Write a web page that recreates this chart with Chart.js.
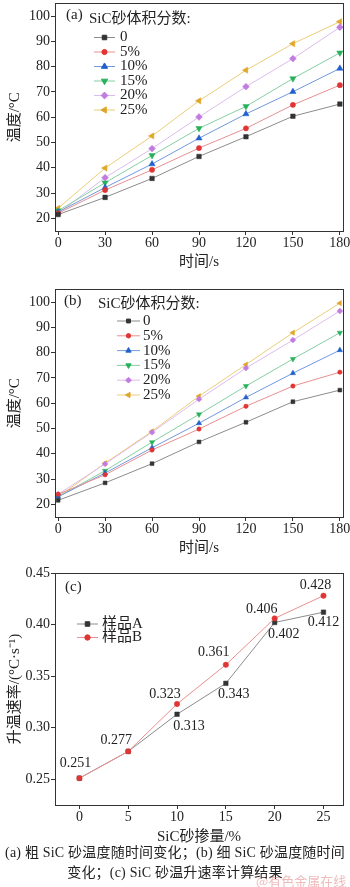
<!DOCTYPE html>
<html>
<head>
<meta charset="utf-8">
<script src="https://cdn.jsdelivr.net/npm/chart.js@4.4.0/dist/chart.umd.min.js"></script>
<style>
  body { margin: 0; background: #fff; width: 350px; height: 887px; position: relative; overflow: hidden; }
  .boite { position: absolute; left: 0; width: 350px; }
  .legende { position: absolute; left: 0; width: 350px; text-align: center; font-size: 14px; line-height: 18px; color: #222; white-space: nowrap;
    letter-spacing: 0.2px; font-family: 'Liberation Serif', 'Noto Sans CJK SC', serif; }
  .filigrane { position: absolute; left: 256px; top: 871px; font-size: 13px; color: rgba(225, 130, 130, 0.55);
    font-family: 'Noto Sans CJK SC', sans-serif; }
</style>
</head>
<body>
<div class="boite" style="top:-1px"><canvas id="chartA" width="350" height="272"></canvas></div>
<div class="boite" style="top:285px"><canvas id="chartB" width="350" height="272"></canvas></div>
<div class="boite" style="top:562px"><canvas id="chartC" width="350" height="284"></canvas></div>
<div class="legende" style="top:844px">(a) 粗 SiC 砂温度随时间变化；(b) 细 SiC 砂温度随时间</div>
<div class="legende" style="top:864px">变化；(c) SiC 砂温升速率计算结果</div>
<div class="filigrane">@有色金属在线</div>

<script>
// Données : temps (s) et fractions volumiques de SiC
const temps = [0, 30, 60, 90, 120, 150, 180];
const fractions = ['0', '5%', '10%', '15%', '20%', '25%'];

// (a) SiC grossier
const grosSic0 = [21.5, 28.3, 35.8, 44.5, 52.3, 60.4, 65.2];
const grosSic5 = [22.0, 31.2, 39.2, 47.8, 55.6, 64.9, 72.7];
const grosSic10 = [22.5, 32.2, 41.5, 51.7, 61.3, 70.1, 79.3];
const grosSic15 = [23.0, 34.1, 44.9, 55.6, 64.3, 75.3, 85.5];
const grosSic20 = [22.0, 36.1, 47.6, 60.1, 72.1, 83.2, 95.6];
const grosSic25 = [24.0, 39.9, 52.6, 66.5, 78.6, 89.1, 97.8];

// (b) SiC fin
const finSic0 = [21.6, 28.5, 36.1, 44.7, 52.5, 60.6, 65.2];
const finSic5 = [24.0, 31.7, 41.5, 49.8, 58.8, 66.8, 72.3];
const finSic10 = [23.0, 32.4, 42.4, 52.1, 62.3, 71.9, 81.0];
const finSic15 = [23.0, 33.3, 44.6, 55.6, 66.8, 77.5, 87.9];
const finSic20 = [24.0, 36.0, 48.5, 61.6, 73.9, 85.0, 96.5];
const finSic25 = [23.0, 36.3, 48.9, 62.8, 75.3, 87.9, 99.6];

// (c) vitesse de montée en température
const dosage = [0, 5, 10, 15, 20, 25];
const echantillons = ['样品A', '样品B'];
const tauxA = [0.251, 0.277, 0.313, 0.343, 0.402, 0.412];
const tauxB = [0.251, 0.277, 0.323, 0.361, 0.406, 0.428];

// Graduations
const ticksTemps = [0, 30, 60, 90, 120, 150, 180];
const ticksTemperature = [20, 30, 40, 50, 60, 70, 80, 90, 100];
const ticksDosage = [0, 5, 10, 15, 20, 25];
const ticksTaux = [0.25, 0.30, 0.35, 0.40, 0.45];

// Styles
const police = "'Liberation Serif', 'Noto Sans CJK SC', serif";
const couleursPoints = ['#333333', '#e03535', '#2160cc', '#27b15a', '#c27ce0', '#e0a628'];
const couleursLignes = ['#8c8c8c', '#ea8f8f', '#7099da', '#84cfa2', '#dcbcee', '#ebcd78'];
const formes = [
  { style: 'rect', rotation: 0, rayon: 3.2 },
  { style: 'circle', rotation: 0, rayon: 2.6 },
  { style: 'triangle', rotation: 0, rayon: 3.6 },
  { style: 'triangle', rotation: 180, rayon: 3.6 },
  { style: 'rectRot', rotation: 0, rayon: 3.4 },
  { style: 'triangle', rotation: 270, rayon: 3.6 }
];

// Fonction pour dessiner un marqueur (légende)
function dessinerMarqueur(ctx, forme, couleur, x, y) {
  ctx.fillStyle = couleur;
  ctx.strokeStyle = couleur;
  Chart.helpers.drawPoint(ctx, { pointStyle: forme.style, radius: forme.rayon, rotation: forme.rotation, borderWidth: 0.5 }, x, y);
}

// Plugin : cadre, étiquette du panneau, légende, étiquettes de valeurs
const decor = {
  id: 'decor',
  afterDraw(chart, args, opts) {
    const ctx = chart.ctx;
    const a = chart.chartArea;
    ctx.save();
    ctx.strokeStyle = '#333';
    ctx.lineWidth = 1;
    const L = Math.round(a.left - 0.5) + 0.5, R = Math.round(a.right - 0.5) + 0.5;
    const T = Math.round(a.top - 0.5) + 0.5, B = Math.round(a.bottom - 0.5) + 0.5;
    ctx.strokeRect(L, T, R - L, B - T);

    ctx.fillStyle = '#222';
    ctx.textBaseline = 'middle';
    ctx.textAlign = 'left';
    ctx.font = '15px ' + police;
    ctx.fillText(opts.panneau.texte, opts.panneau.x, opts.panneau.y);
    if (opts.titre) ctx.fillText(opts.titre.texte, opts.titre.x, opts.titre.y);

    // Légende
    const lg = opts.legende;
    lg.noms.forEach(function(nom, i) {
      const y = lg.y0 + i * lg.dy;
      ctx.strokeStyle = lg.lignes[i];
      ctx.lineWidth = 1;
      ctx.beginPath();
      ctx.moveTo(lg.x1, y);
      ctx.lineTo(lg.x2, y);
      ctx.stroke();
      dessinerMarqueur(ctx, lg.formes[i], lg.points[i], lg.xm, y);
      ctx.fillStyle = '#222';
      ctx.font = '15px ' + police;
      ctx.fillText(nom, lg.xt, y);
    });

    // Étiquettes de valeurs (graphique c)
    if (opts.etiquettes) {
      ctx.font = '14px ' + police;
      ctx.textAlign = 'center';
      ctx.fillStyle = '#222';
      opts.etiquettes.forEach(function(et) {
        const ds = chart.data.datasets[et.serie];
        const pt = ds.data[et.index];
        const x = chart.scales.x.getPixelForValue(pt.x);
        const y = chart.scales.y.getPixelForValue(pt.y);
        ctx.fillText(pt.y.toFixed(3), x + et.dx, y + et.dy);
      });
    }
    ctx.restore();
  }
};

function versPoints(xs, ys) {
  return xs.map(function(x, i) { return { x: x, y: ys[i] }; });
}

function echelleX(min, max, ticks, titre, hauteur) {
  return {
    type: 'linear', min: min, max: max,
    afterBuildTicks: function(s) { s.ticks = ticks.map(function(v) { return { value: v }; }); },
    afterFit: function(s) { s.height = hauteur; s.paddingLeft = 0; s.paddingRight = 0; },
    grid: { display: true, drawOnChartArea: false, drawTicks: true, tickLength: 4, color: '#333' },
    border: { display: true, color: '#333', width: 1 },
    ticks: { color: '#222', padding: 0, maxRotation: 0, autoSkip: false, font: { family: police, size: 14 } },
    title: { display: true, text: titre, color: '#222', padding: { top: 0, bottom: 0 }, font: { family: police, size: 15 } }
  };
}

function echelleY(min, max, ticks, titre, format) {
  return {
    type: 'linear', min: min, max: max,
    afterBuildTicks: function(s) { s.ticks = ticks.map(function(v) { return { value: v }; }); },
    afterFit: function(s) { s.width = 55; s.paddingTop = 0; s.paddingBottom = 0; },
    grid: { display: true, drawOnChartArea: false, drawTicks: true, tickLength: 4, color: '#333' },
    border: { display: true, color: '#333', width: 1 },
    ticks: { color: '#222', padding: 1, autoSkip: false, font: { family: police, size: 14 }, callback: format },
    title: { display: true, text: titre, color: '#222', padding: { top: 6, bottom: 0 }, font: { family: police, size: 15 } }
  };
}

// Fonction pour créer un graphique de température (a) ou (b)
function graphiqueTemperature(id, series, panneau, legende, rayonFacteur) {
  const datasets = series.map(function(ys, i) {
    return {
      label: fractions[i],
      data: versPoints(temps, ys),
      borderColor: couleursLignes[i],
      backgroundColor: couleursPoints[i],
      pointBorderColor: couleursPoints[i],
      pointBackgroundColor: couleursPoints[i],
      borderWidth: 1,
      pointStyle: formes[i].style,
      pointRotation: formes[i].rotation,
      pointRadius: formes[i].rayon * rayonFacteur,
      pointBorderWidth: 0.5,
      tension: 0
    };
  });
  return new Chart(document.getElementById(id), {
    type: 'line',
    data: { datasets: datasets },
    plugins: [decor],
    options: {
      responsive: false,
      animation: false,
      events: [],
      layout: { padding: { left: 0, right: 7, top: 1, bottom: 0 } },
      scales: {
        x: echelleX(-2, 182, ticksTemps, '时间/s', 40),
        y: echelleY(15, 105, ticksTemperature, '温度/°C')
      },
      plugins: {
        legend: { display: false },
        tooltip: { enabled: false },
        decor: {
          panneau: panneau,
          titre: { texte: 'SiC砂体积分数:', x: legende.xTitre, y: legende.yTitre },
          legende: {
            noms: fractions, lignes: couleursLignes, points: couleursPoints,
            formes: formes.map(function(f) { return { style: f.style, rotation: f.rotation, rayon: f.rayon * rayonFacteur }; }),
            x1: legende.x1, x2: legende.x2, xm: legende.xm, xt: legende.xt, y0: legende.y0, dy: legende.dy
          }
        }
      }
    }
  });
}

graphiqueTemperature('chartA',
  [grosSic0, grosSic5, grosSic10, grosSic15, grosSic20, grosSic25],
  { texte: '(a)', x: 66, y: 16 },
  { xTitre: 89, yTitre: 20, x1: 94, x2: 115, xm: 104.5, xt: 120, y0: 38.5, dy: 14.5 }, 1);

graphiqueTemperature('chartB',
  [finSic0, finSic5, finSic10, finSic15, finSic20, finSic25],
  { texte: '(b)', x: 64, y: 16 },
  { xTitre: 98, yTitre: 19, x1: 117, x2: 140, xm: 128.5, xt: 143, y0: 36, dy: 14.8 }, 0.85);

// Graphique (c)
new Chart(document.getElementById('chartC'), {
  type: 'line',
  data: {
    datasets: [
      {
        label: echantillons[0], data: versPoints(dosage, tauxA), order: 1,
        borderColor: '#8c8c8c', pointBackgroundColor: '#333', pointBorderColor: '#333',
        borderWidth: 1, pointStyle: 'rect', pointRadius: 3.2, pointBorderWidth: 0.5, tension: 0
      },
      {
        label: echantillons[1], data: versPoints(dosage, tauxB), order: 0,
        borderColor: '#ea8f8f', pointBackgroundColor: '#e03535', pointBorderColor: '#e03535',
        borderWidth: 1, pointStyle: 'circle', pointRadius: 2.7, pointBorderWidth: 0.5, tension: 0
      }
    ]
  },
  plugins: [decor],
  options: {
    responsive: false,
    animation: false,
    events: [],
    layout: { padding: { left: 0, right: 7, top: 11, bottom: 0 } },
    scales: {
      x: echelleX(-2.5, 27, ticksDosage, 'SiC砂掺量/%', 41),
      y: echelleY(0.225, 0.45, ticksTaux, '升温速率/(°C·s⁻¹)', function(v) { return v.toFixed(2); })
    },
    plugins: {
      legend: { display: false },
      tooltip: { enabled: false },
      decor: {
        panneau: { texte: '(c)', x: 65, y: 25.5 },
        legende: {
          noms: echantillons, lignes: ['#8c8c8c', '#ea8f8f'], points: ['#333', '#e03535'],
          formes: [{ style: 'rect', rotation: 0, rayon: 3.2 }, { style: 'circle', rotation: 0, rayon: 2.7 }],
          x1: 77, x2: 98, xm: 87.5, xt: 102, y0: 62, dy: 13.5
        },
        etiquettes: [
          { serie: 1, index: 0, dx: -4, dy: -15 },
          { serie: 1, index: 1, dx: -12, dy: -11 },
          { serie: 1, index: 2, dx: -12, dy: -10 },
          { serie: 1, index: 3, dx: -12, dy: -12 },
          { serie: 1, index: 4, dx: -13, dy: -9 },
          { serie: 1, index: 5, dx: -8, dy: -10 },
          { serie: 0, index: 2, dx: 12, dy: 12 },
          { serie: 0, index: 3, dx: 8, dy: 11 },
          { serie: 0, index: 4, dx: 9, dy: 12 },
          { serie: 0, index: 5, dx: 0, dy: 10 }
        ]
      }
    }
  }
});
</script>
</body>
</html>
